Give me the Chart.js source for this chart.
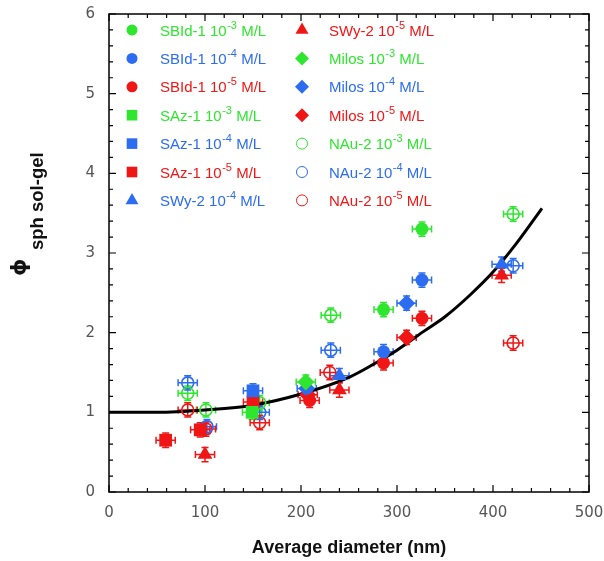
<!DOCTYPE html>
<html><head><meta charset="utf-8">
<script src="https://cdn.jsdelivr.net/npm/chart.js@4.4.1/dist/chart.umd.min.js"></script>
<style>html,body{margin:0;padding:0;background:#fff;}#wrap{width:604px;height:561px;position:relative;}</style>
</head><body><div id="wrap"><canvas id="c" width="604" height="561"></canvas></div>
<script>
// ---- data ----
const sampleNames   = ['SBId-1','SBId-1','SBId-1','SAz-1','SAz-1','SAz-1','SWy-2','SWy-2','Milos','Milos','Milos','NAu-2','NAu-2','NAu-2'];
const concExponents = ['-3','-4','-5','-3','-4','-5','-4','-5','-3','-4','-5','-3','-4','-5'];

const SBId1_1e3 = [[286,2.29],[326,3.30]];
const SBId1_1e4 = [[286,1.76],[326,2.66]];
const SBId1_1e5 = [[209,1.15],[286,1.62],[326,2.18]];
const SAz1_1e3  = [[149,1.00]];
const SAz1_1e4  = [[150,1.27]];
const SAz1_1e5  = [[59,0.65],[95,0.78],[150,1.13]];
const SWy2_1e4  = [[240,1.46],[409,2.86]];
const SWy2_1e5  = [[100,0.47],[240,1.28],[409,2.72]];
const Milos_1e3 = [[205,1.38]];
const Milos_1e4 = [[206,1.30],[310,2.37]];
const Milos_1e5 = [[207,1.22],[310,1.94]];
const NAu2_1e3  = [[82,1.24],[101,1.03],[157,1.12],[231,2.22],[421,3.49]];
const NAu2_1e4  = [[82,1.37],[102,0.82],[157,1.00],[231,1.78],[421,2.84]];
const NAu2_1e5  = [[82,1.03],[101,0.79],[157,0.87],[230,1.50],[421,1.87]];

const xErrorNm = 10;     // horizontal error half-width (nm)
const yErrorPhi = 0.09;  // vertical error half-height

const fitX = [0,50,100,150,200,250,275,300,327,350,375,400,425,451];
const fitY = [1.00,1.00,1.03,1.09,1.23,1.44,1.60,1.78,2.01,2.20,2.46,2.76,3.13,3.56];

const xTickValues = [0,100,200,300,400,500];
const yTickValues = [0,1,2,3,4,5,6];

// ---- styling ----
const G = '#2fe62f', B = '#2c6cf0', R = '#f01616';
const allSeries = [SBId1_1e3,SBId1_1e4,SBId1_1e5,SAz1_1e3,SAz1_1e4,SAz1_1e5,SWy2_1e4,SWy2_1e5,Milos_1e3,Milos_1e4,Milos_1e5,NAu2_1e3,NAu2_1e4,NAu2_1e5];
const seriesColors = [G,B,R,G,B,R,B,R,G,B,R,G,B,R];
const seriesShapes = ['circle','circle','circle','rect','rect','rect','triangle','triangle','rectRot','rectRot','rectRot','open','open','open'];
const shapeRadius = {circle:6.5, rect:9, triangle:8.5, rectRot:8.5, open:6};
const legendRadius = {circle:5.5, rect:7.5, triangle:7.5, rectRot:7, open:5.5};

const datasets = allSeries.map((pts,i)=>{
  const shape = seriesShapes[i];
  const open = shape==='open';
  return {
    label: sampleNames[i]+' 10'+concExponents[i]+' M/L',
    data: pts.map(p=>({x:p[0],y:p[1]})),
    showLine:false,
    pointStyle: open?'circle':shape,
    pointRadius: shapeRadius[shape],
    pointHoverRadius: shapeRadius[shape],
    borderColor: seriesColors[i],
    backgroundColor: open?'rgba(0,0,0,0)':seriesColors[i],
    borderWidth: open?1.6:0,
    order: 1,
    errorBars:true
  };
});
datasets.push({
  label:'fit',
  data: fitX.map((x,i)=>({x:x,y:fitY[i]})),
  showLine:true, pointRadius:0, borderColor:'#000', borderWidth:3,
  cubicInterpolationMode:'monotone', fill:false, order:100
});

const errorBarPlugin = {
  id:'errorBars',
  beforeDatasetsDraw(chart){
    const ctx = chart.ctx, xs = chart.scales.x, ys = chart.scales.y;
    ctx.save();
    chart.data.datasets.forEach(ds=>{
      if(!ds.errorBars) return;
      ctx.strokeStyle = ds.borderColor; ctx.lineWidth = 1.5;
      ds.data.forEach(p=>{
        const cx = xs.getPixelForValue(p.x), cy = ys.getPixelForValue(p.y);
        const x0 = xs.getPixelForValue(p.x-xErrorNm), x1 = xs.getPixelForValue(p.x+xErrorNm);
        const y0 = ys.getPixelForValue(p.y-yErrorPhi), y1 = ys.getPixelForValue(p.y+yErrorPhi);
        const c = 3.5;
        ctx.beginPath();
        ctx.moveTo(x0,cy); ctx.lineTo(x1,cy);
        ctx.moveTo(x0,cy-c); ctx.lineTo(x0,cy+c);
        ctx.moveTo(x1,cy-c); ctx.lineTo(x1,cy+c);
        ctx.moveTo(cx,y0); ctx.lineTo(cx,y1);
        ctx.moveTo(cx-c,y0); ctx.lineTo(cx+c,y0);
        ctx.moveTo(cx-c,y1); ctx.lineTo(cx+c,y1);
        ctx.stroke();
      });
    });
    ctx.restore();
  }
};

const framePlugin = {
  id:'frame',
  afterDatasetsDraw(chart){
    const ctx = chart.ctx, a = chart.chartArea, xs = chart.scales.x, ys = chart.scales.y;
    ctx.save();
    ctx.strokeStyle = '#000'; ctx.lineWidth = 1.2;
    ctx.beginPath();
    for(let v=0; v<=500; v+=20){
      const px = xs.getPixelForValue(v); const L = (v%100===0)?7:4;
      ctx.moveTo(px,a.bottom); ctx.lineTo(px,a.bottom-L);
      ctx.moveTo(px,a.top); ctx.lineTo(px,a.top+L);
    }
    for(let k=0; k<=30; k++){
      const v = k*0.2; const py = ys.getPixelForValue(v); const L = (k%5===0)?7:4;
      ctx.moveTo(a.left,py); ctx.lineTo(a.left+L,py);
      ctx.moveTo(a.right,py); ctx.lineTo(a.right-L,py);
    }
    ctx.stroke();
    ctx.lineWidth = 1.5;
    ctx.strokeRect(a.left,a.top,a.right-a.left,a.bottom-a.top);
    ctx.restore();
  }
};

const legendPlugin = {
  id:'customLegend',
  afterDraw(chart){
    const ctx = chart.ctx;
    ctx.save();
    const colMarkerX = [132, 302], colTextX = [160, 329];
    allSeries.forEach((s,i)=>{
      const col = i<7?0:1, row = i<7?i:i-7;
      const y = 30 + row*28.4;
      const shape = seriesShapes[i], open = shape==='open';
      ctx.fillStyle = open?'rgba(0,0,0,0)':seriesColors[i];
      ctx.strokeStyle = seriesColors[i];
      Chart.helpers.drawPoint(ctx,{pointStyle: open?'circle':shape, radius: legendRadius[shape], borderWidth: open?1.6:0, rotation:0}, colMarkerX[col], y);
      ctx.fillStyle = seriesColors[i];
      ctx.textBaseline = 'alphabetic'; ctx.textAlign='left';
      ctx.font = '15px "Liberation Sans", Arial, sans-serif';
      let x = colTextX[col];
      const base = sampleNames[i]+' 10';
      ctx.fillText(base, x, y+5.5); x += ctx.measureText(base).width;
      ctx.font = '11px "Liberation Sans", Arial, sans-serif';
      ctx.fillText(concExponents[i], x+0.5, y-1.5); x += ctx.measureText(concExponents[i]).width+0.5;
      ctx.font = '15px "Liberation Sans", Arial, sans-serif';
      ctx.fillText(' M/L', x, y+5.5);
    });
    // y axis title
    ctx.fillStyle = '#111';
    ctx.save();
    ctx.translate(26, 276);
    ctx.rotate(-Math.PI/2);
    ctx.textAlign='left'; ctx.textBaseline='alphabetic';
    ctx.font = 'bold 22px "DejaVu Sans", sans-serif';
    ctx.fillText('\u03D5', 0, 0);
    ctx.font = 'bold 18.5px "Liberation Sans", Arial, sans-serif';
    ctx.fillText('sph sol-gel', 26, 17);
    ctx.restore();
    ctx.restore();
  }
};

function zeroPad(s){ s.paddingTop = 0; s.paddingBottom = 0; s.paddingLeft = 0; s.paddingRight = 0; }

new Chart(document.getElementById('c'), {
  type:'scatter',
  data:{datasets},
  options:{
    responsive:false, animation:false, devicePixelRatio:1,
    layout:{padding:{top:14,right:15,left:0,bottom:0}},
    plugins:{legend:{display:false}, tooltip:{enabled:false}},
    scales:{
      x:{type:'linear', min:0, max:500,
        afterBuildTicks(s){ s.ticks = xTickValues.map(v=>({value:v})); },
        afterFit(s){ s.height = 69; zeroPad(s); },
        grid:{display:false, drawTicks:false}, border:{display:false},
        ticks:{padding:12, color:'#555', font:{family:'"DejaVu Sans", sans-serif', size:15}},
        title:{display:true, text:'Average diameter (nm)', color:'#111', padding:{top:0,bottom:2},
          font:{family:'"Liberation Sans", Arial, sans-serif', size:18, weight:'bold'}}
      },
      y:{type:'linear', min:0, max:6,
        afterBuildTicks(s){ s.ticks = yTickValues.map(v=>({value:v})); },
        afterFit(s){ s.width = 109; zeroPad(s); },
        grid:{display:false, drawTicks:false}, border:{display:false},
        ticks:{padding:14, color:'#555', font:{family:'"DejaVu Sans", sans-serif', size:15}}
      }
    }
  },
  plugins:[errorBarPlugin, framePlugin, legendPlugin]
});
</script></body></html>
